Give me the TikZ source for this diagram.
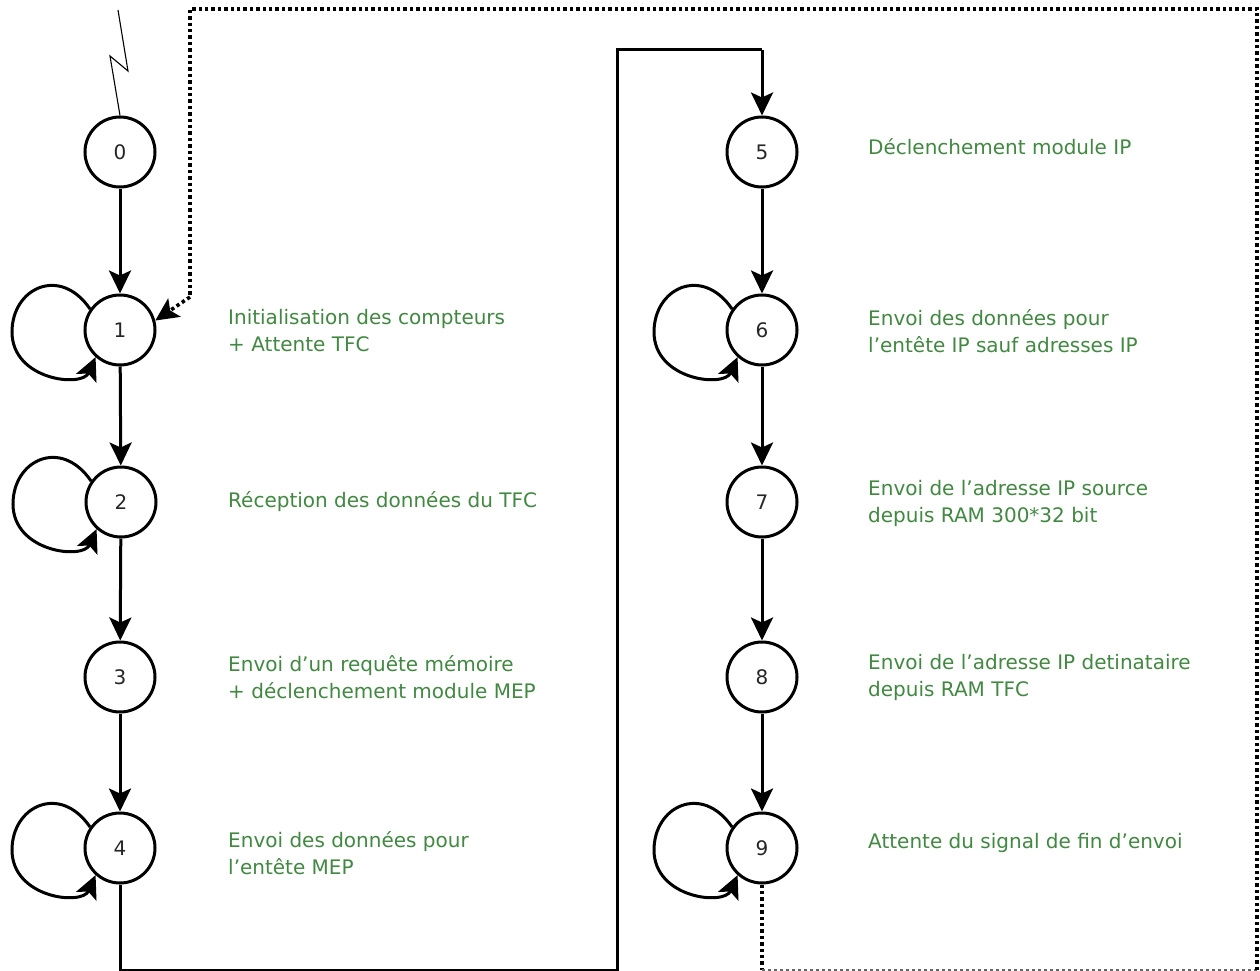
\documentclass[tikz,border=0pt]{standalone}
\usepackage{fontspec}
\setmainfont{DejaVu Sans}
\usetikzlibrary{arrows.meta}
\definecolor{labelgreen}{RGB}{66,136,66}
\tikzset{
  state/.style={circle, draw=black, line width=3pt, minimum size=70pt, inner sep=0pt,
    font=\fontsize{20}{20}\selectfont, text=black!85},
  flow/.style={line width=3pt, -{Stealth[length=23pt,width=22pt,inset=5pt]}},
  plain/.style={line width=3pt},
  dots/.style={line width=3.6pt, dash pattern=on 3.4pt off 3pt},
  dotsflow/.style={dots, -{Stealth[length=23pt,width=22pt,inset=5pt]}},
  descr/.style={anchor=west, align=left, text=labelgreen, inner sep=0pt,
    font=\fontsize{20}{27}\selectfont},
}
\begin{document}
\begin{tikzpicture}[x=1pt,y=-1pt]
\useasboundingbox (0,0) rectangle (1260,971);
\fill[white] (0,0) rectangle (1260,971);

% states, left column
\node[state] (s0) at (120,152) {0};
\node[state] (s1) at (120,330) {1};
\node[state] (s2) at (121,502) {2};
\node[state] (s3) at (120,677) {3};
\node[state] (s4) at (120,848) {4};
% states, right column
\node[state] (s5) at (762,152) {5};
\node[state] (s6) at (762,330) {6};
\node[state] (s7) at (762,502) {7};
\node[state] (s8) at (762,677) {8};
\node[state] (s9) at (762,848) {9};

% reset trigger
\coordinate (zt) at (118,10);
\draw[line width=1.1pt] (zt) -- (128,71) -- (110,56) -- (s0.north);

% main sequence
\draw[flow] (s0) -- (s1);
\draw[flow] (s1) -- (s2);
\draw[flow] (s2) -- (s3);
\draw[flow] (s3) -- (s4);
\draw[flow] (s5) -- (s6);
\draw[flow] (s6) -- (s7);
\draw[flow] (s7) -- (s8);
\draw[flow] (s8) -- (s9);

% jump from 4 to 5
\coordinate (jb) at (120,970.5);
\coordinate (jc) at (617,970.5);
\coordinate (jd) at (617,50);
\coordinate (je) at (762,50);
\draw[plain] (s4.south) -- (jb) -- (jc) -- (jd) -- (je);
\draw[flow] (je) -- (s5.north);

% self loops
\foreach \s in {s1,s2,s4,s6,s9}{
  \draw[flow] (\s.145) .. controls ([shift={(-30,-44)}]\s.145) and ([shift={(-108,-42)}]\s.center) ..
    ([shift={(-108,2)}]\s.center) .. controls ([shift={(-108,50)}]\s.center) and ([shift={(-38,58)}]\s.center) ..
    (\s.228);
}

% return from 9 to 1
\coordinate (ra) at (762,970);
\coordinate (rb) at (1257,970);
\coordinate (rc) at (1257,9);
\coordinate (rd) at (190,9);
\coordinate (re) at (190,297);
\draw[dots] (s9.south) -- (ra);
\draw[line width=1.2pt, black!60, dash pattern=on 3pt off 3pt] (ra) -- (rb);
\draw[dots] (rb) -- (rc) -- (rd) -- (re);
\draw[dotsflow] (re) -- (s1.15);

% descriptions
\node[descr] (t1) at (228,331) {Initialisation des compteurs\\+ Attente TFC};
\node[descr] (t2) at (228,502) {Réception des données du TFC};
\node[descr] (t3) at (228,677) {Envoi d'un requête mémoire\\+ déclenchement module MEP};
\node[descr] (t4) at (228,853) {Envoi des données pour\\l'entête MEP};
\node[descr] (t5) at (868,147) {Déclenchement module IP};
\node[descr] (t6) at (868,331) {Envoi des données pour\\l'entête IP sauf adresses IP};
\node[descr] (t7) at (868,503) {Envoi de l'adresse IP source\\depuis RAM 300*32 bit};
\node[descr] (t8) at (868,677) {Envoi de l'adresse IP detinataire\\depuis RAM TFC};
\node[descr] (t9) at (868,843) {Attente du signal de fin d'envoi};
\end{tikzpicture}
\end{document}
